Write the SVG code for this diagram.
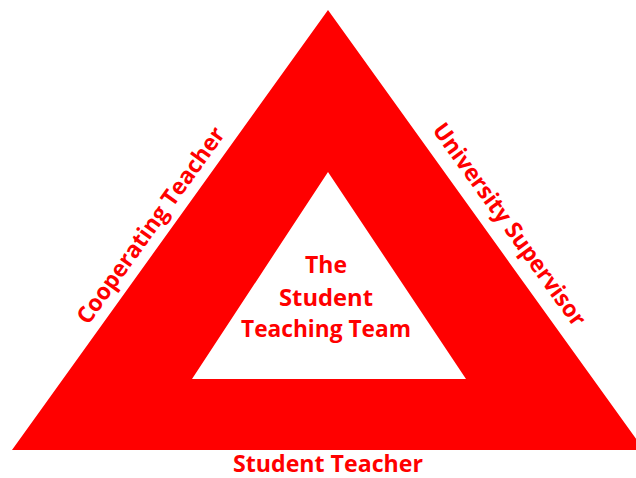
<svg xmlns="http://www.w3.org/2000/svg" width="636" height="478" viewBox="0 0 636 478">
<style>
.lbl{font-family:"Open Sans","Liberation Sans",sans-serif;font-weight:bold;font-size:23px;fill:#FF0000;text-anchor:middle}
</style>
<rect width="636" height="478" fill="#FFFFFF"/>
<g id="triangle">
<path d="M328,10 L12,450 L644,450 Z M328,172 L192,379 L466,379 Z" fill="#FF0000" fill-rule="evenodd"/>
</g>
<g id="connectors"></g>
<g id="center">
<text class="lbl" x="326" y="273" textLength="42" lengthAdjust="spacingAndGlyphs">The</text>
<text class="lbl" x="326" y="306" textLength="94" lengthAdjust="spacingAndGlyphs">Student</text>
<text class="lbl" x="326" y="337" textLength="170" lengthAdjust="spacingAndGlyphs">Teaching Team</text>
</g>
<g id="cooperating">
<text class="lbl" x="157" y="230" transform="rotate(-54.3 157 230)" textLength="236" lengthAdjust="spacingAndGlyphs">Cooperating Teacher</text>
</g>
<g id="supervisor">
<text class="lbl" x="503" y="229" transform="rotate(54.3 503 229)" textLength="244" lengthAdjust="spacingAndGlyphs">University Supervisor</text>
</g>
<g id="student">
<text class="lbl" x="328" y="472" font-size="22" textLength="190" lengthAdjust="spacingAndGlyphs">Student Teacher</text>
</g>
</svg>
